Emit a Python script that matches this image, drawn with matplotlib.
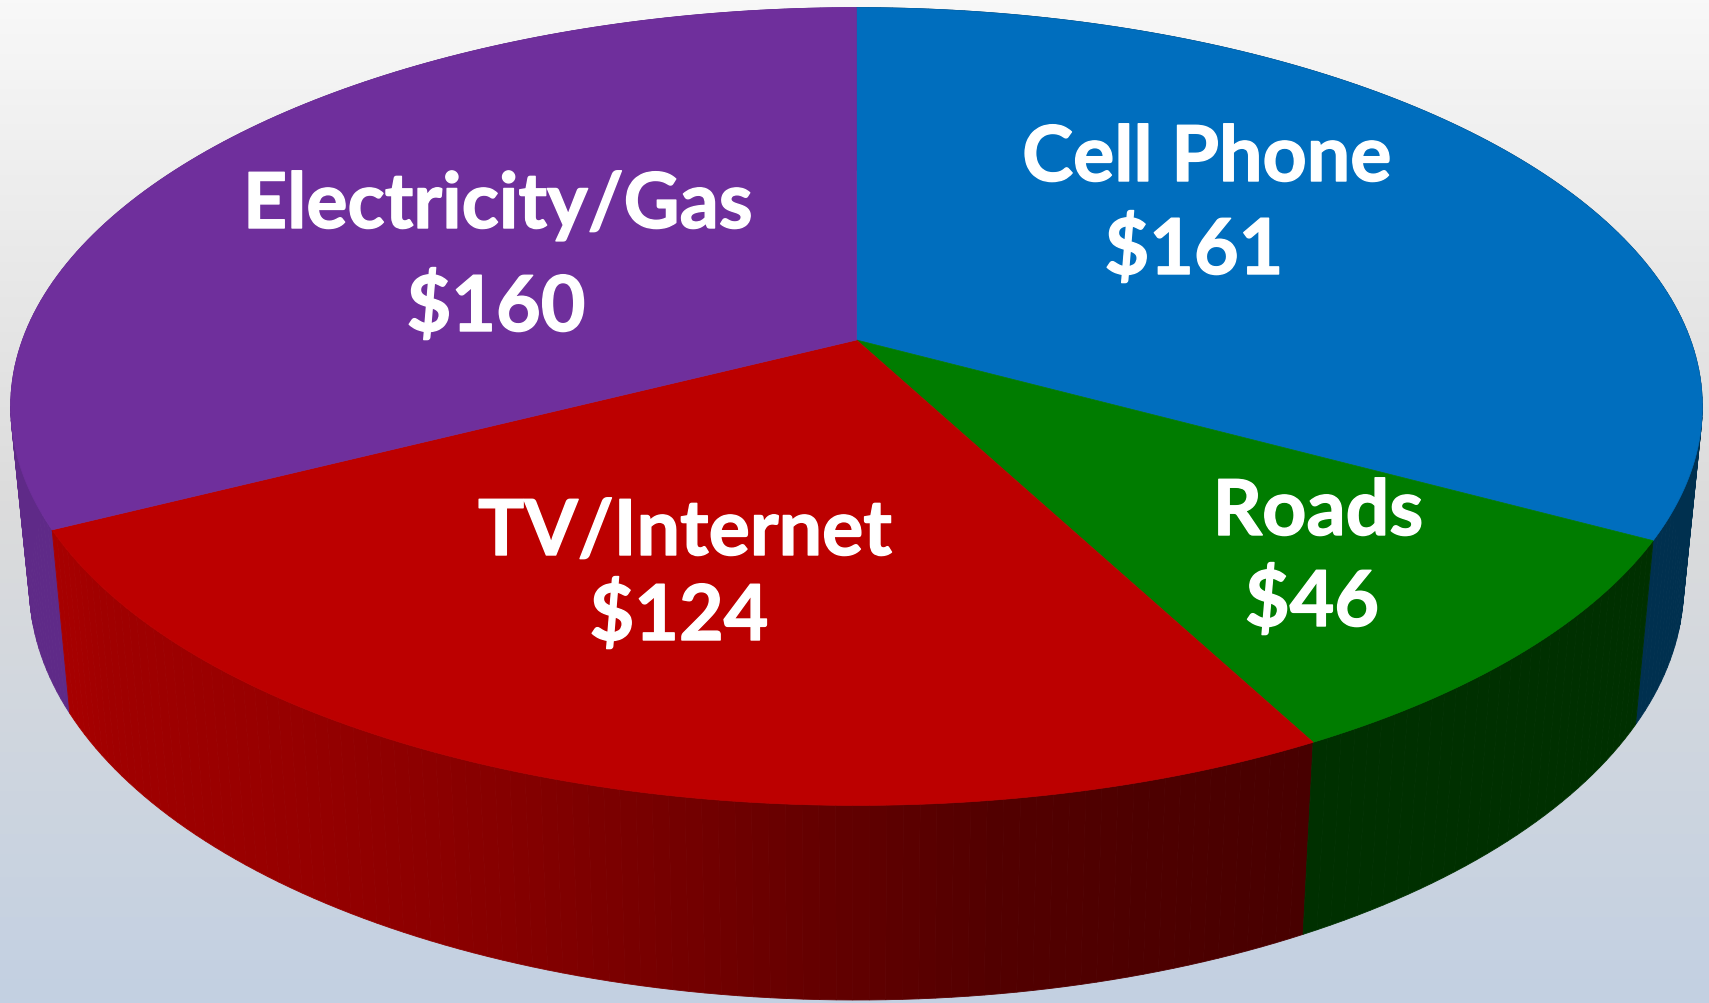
import numpy as np
import matplotlib
matplotlib.use("Agg")
import matplotlib.pyplot as plt
import matplotlib.patheffects as pe
from matplotlib.colors import LinearSegmentedColormap, to_rgb
from matplotlib.patches import Polygon

categories = ["Cell Phone", "Roads", "TV/Internet", "Electricity/Gas"]
values = [161, 46, 124, 160]
value_labels = ["$161", "$46", "$124", "$160"]

W, H = 1709, 1004
top_colors = ["#006EBE", "#007C00", "#BC0000", "#6F2F9C"]
wall_colors = ["#00304F", "#003000", None, "#5F2A88"]
red_stops_x = [50, 100, 300, 500, 700, 857, 1000, 1315]
red_stops_v = [168, 160, 150, 134, 114, 96, 82, 72]
label_xy = [(1207, 182), (1318, 536), (685, 556), (498, 229)]
value_xy = [(1194, 275), (1312, 627), (679, 641), (496, 332)]

CX, CY, AX, BY, K = 856.5, 341.0, 834.0, 387.8, 0.1667
EDGE_NUDGE = np.radians(0.4)


def top_face(theta):
    x, y = np.sin(theta), np.cos(theta)
    d = 1 + K * y
    return CX + AX * x / d, CY - BY * y / d


def bottom_face(theta):
    X, Y = top_face(theta)
    return CX + 0.978 * (X - CX), 517 + 1.04 * (Y - CY)


fig = plt.figure(figsize=(W / 100, H / 100), dpi=100)
ax = fig.add_axes([0, 0, 1, 1])
ax.set_xlim(0, W)
ax.set_ylim(H, 0)
ax.axis("off")

bg = LinearSegmentedColormap.from_list(
    "bg", [(0, "#F8F8F8"), (0.35, "#E4E4E4"), (0.5, "#DCDCDC"),
           (0.75, "#CFD6DF"), (1, "#C3D0E2")])
ax.imshow(np.linspace(0, 1, 256)[:, None], cmap=bg, aspect="auto",
          extent=[0, W, H, 0], zorder=0)

edges = np.concatenate([[0], np.cumsum(values)]) / np.sum(values) * 2 * np.pi
edges[1:-1] += EDGE_NUDGE

order = [3, 0, 2, 1]
for i in order:
    th = np.linspace(edges[i], edges[i + 1], max(int((edges[i + 1] - edges[i]) * 60), 4))
    xt, yt = top_face(th)
    xb, yb = bottom_face(th)
    for j in range(len(th) - 1):
        if wall_colors[i] is None:
            xm = 0.5 * (xt[j] + xt[j + 1])
            col = (np.interp(xm, red_stops_x, red_stops_v) / 255, 0, 0)
        else:
            col = to_rgb(wall_colors[i])
        ax.add_patch(Polygon([(xt[j], yt[j]), (xt[j + 1], yt[j + 1]),
                              (xb[j + 1], yb[j + 1]), (xb[j], yb[j])],
                             closed=True, fc=col, ec=col, lw=0.6, zorder=2 + order.index(i)))

for i in range(4):
    th = np.linspace(edges[i], edges[i + 1], 300)
    xt, yt = top_face(th)
    pts = np.column_stack([np.r_[CX, xt], np.r_[CY, yt]])
    ax.add_patch(Polygon(pts, closed=True, fc=top_colors[i], ec=top_colors[i], lw=0.5, zorder=10))

font = dict(family="Lato", weight="bold", color="white", fontsize=55.5,
            ha="center", va="baseline", zorder=12,
            path_effects=[pe.withStroke(linewidth=1.0, foreground="white", joinstyle="round")])
for i in range(4):
    ax.text(*label_xy[i], categories[i], **font)
    ax.text(*value_xy[i], value_labels[i], **font)

fig.savefig("out.png", dpi=100)
